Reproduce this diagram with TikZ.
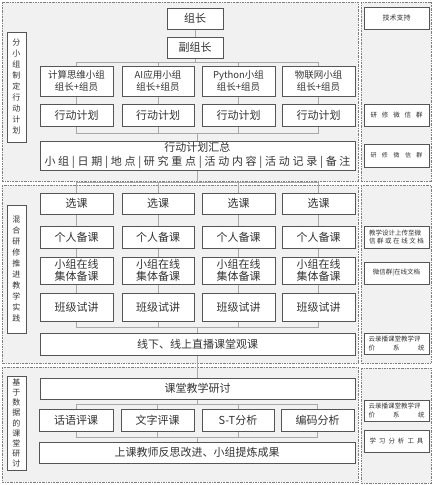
\documentclass[tikz,border=0pt]{standalone}
\usepackage{fontspec}
\setmainfont{Noto Sans CJK SC}
\definecolor{boxline}{HTML}{555555}
\definecolor{txt}{HTML}{333333}
\definecolor{connline}{HTML}{A8A8A8}
\definecolor{panelfill}{HTML}{F1F1F1}
\definecolor{panelline}{HTML}{7F7F7F}
\tikzset{
  panel/.style={draw=panelline, fill=panelfill, line width=0.7pt, dash pattern=on 2pt off 1pt on 0.6pt off 1pt},
  box/.style={draw=boxline, fill=white, line width=1pt, inner sep=0pt, align=center, text=txt},
  big/.style={font=\fontsize{11}{14}\selectfont},
  mid/.style={font=\fontsize{9.5}{12}\selectfont},
  side/.style={box, minimum width=65pt, font=\fontsize{6.5}{8.5}\selectfont},
  vlabel/.style={box, minimum width=19pt, font=\fontsize{8}{11}\selectfont},
  conn/.style={draw=connline, line width=0.8pt}
}
\begin{document}
\begin{tikzpicture}[x=1pt,y=-1pt]
\useasboundingbox (0,0) rectangle (434,485);
% panels
\draw[panel] (2,2) rectangle (358,181);
\draw[panel] (2,185) rectangle (358,363);
\draw[panel] (2,367) rectangle (358,482);
\draw[panel] (361,2) rectangle (431,181);
\draw[panel] (361,185) rectangle (431,363);
\draw[panel] (361,368) rectangle (431,483);
% bus coordinates
\coordinate (busA) at (0,62);
\coordinate (busB) at (0,133);
\coordinate (busC) at (0,182);
\coordinate (busD) at (0,327);
\coordinate (busE) at (0,404);
\coordinate (busF) at (0,437);
% left labels
\node[vlabel, minimum height=110pt] (L1) at (16.5,87) {分\\小\\组\\制\\定\\行\\动\\计\\划};
\node[vlabel, minimum height=128pt] (L2) at (16.5,269) {混\\合\\研\\修\\推\\进\\教\\学\\实\\践};
\node[vlabel, minimum height=94pt, font=\fontsize{8}{10.2}\selectfont] (L3) at (16.5,423) {基\\于\\数\\据\\的\\课\\堂\\研\\讨};
% panel 1
\node[box, big, minimum width=56pt, minimum height=21pt] (zz) at (195,18.5) {组长};
\node[box, big, minimum width=56pt, minimum height=21pt] (fz) at (195,47.5) {副组长};
\node[box, mid, minimum width=73pt, minimum height=30pt] (g1) at (76.5,81) {计算思维小组\\组长+组员};
\node[box, mid, minimum width=72pt, minimum height=30pt] (g2) at (158,81) {AI应用小组\\组长+组员};
\node[box, mid, minimum width=73pt, minimum height=30pt] (g3) at (238.5,81) {Python小组\\组长+组员};
\node[box, mid, minimum width=73pt, minimum height=30pt] (g4) at (318.5,81) {物联网小组\\组长+组员};
\node[box, big, minimum width=73pt, minimum height=22pt] (p1) at (76.5,115) {行动计划};
\node[box, big, minimum width=72pt, minimum height=22pt] (p2) at (158,115) {行动计划};
\node[box, big, minimum width=73pt, minimum height=22pt] (p3) at (238.5,115) {行动计划};
\node[box, big, minimum width=73pt, minimum height=22pt] (p4) at (318.5,115) {行动计划};
\node[box, big, minimum width=315pt, minimum height=29pt] (sum) at (197.5,155.5) {行动计划汇总\\\makebox[306pt][s]{小 组 | 日 期 | 地 点 | 研 究 重 点 | 活 动 内 容 | 活 动 记 录 | 备 注}};
% panel 2
\foreach \i/\x/\w in {1/76.5/73,2/158/72,3/238.5/73,4/318.5/73}{
  \node[box, big, minimum width=\w pt, minimum height=21pt] (x\i) at (\x,203.5) {选课};
  \node[box, big, minimum width=\w pt, minimum height=22pt] (r\i) at (\x,237) {个人备课};
  \node[box, big, minimum width=\w pt, minimum height=27pt, font=\fontsize{11}{12.5}\selectfont] (o\i) at (\x,270.5) {小组在线\\集体备课};
  \node[box, big, minimum width=\w pt, minimum height=28pt] (t\i) at (\x,307) {班级试讲};
}
\node[box, big, minimum width=315pt, minimum height=22pt] (gk) at (197.5,344) {线下、线上直播课堂观课};
% panel 3
\node[box, big, minimum width=315pt, minimum height=21pt] (yt) at (197.5,388.5) {课堂教学研讨};
\node[box, big, minimum width=74pt, minimum height=22pt] (a1) at (76,420) {话语评课};
\node[box, big, minimum width=73pt, minimum height=22pt] (a2) at (157.5,420) {文字评课};
\node[box, big, minimum width=72pt, minimum height=22pt] (a3) at (238,420) {S-T分析};
\node[box, big, minimum width=73pt, minimum height=22pt] (a4) at (317.5,420) {编码分析};
\node[box, big, minimum width=316pt, minimum height=21pt] (fs) at (197,452.5) {上课教师反思改进、小组提炼成果};
% right column
\node[side, minimum height=22pt, font=\fontsize{7}{9}\selectfont] (js) at (396.5,18) {技术支持};
\node[side, minimum height=22pt, font=\fontsize{6.5}{9}\selectfont] (w1) at (396.5,115) {\makebox[52pt][s]{研 修 微 信 群}};
\node[side, minimum height=23pt, font=\fontsize{6}{9}\selectfont] (w2) at (396.5,155.5) {\makebox[52pt][s]{研 修 微 信 群}};
\node[side, minimum height=22pt] (sj) at (396.5,237) {\makebox[55pt][s]{教学设计上传至微}\\\makebox[55pt][s]{信 群 或 在 线 文 档}};
\node[side, minimum height=22pt] (wx) at (396.5,273) {微信群|在线文档};
\node[side, minimum height=21pt] (y1) at (396.5,343.5) {\makebox[56pt][s]{云录播课堂教学评}\\\makebox[56pt][s]{价 系 统}};
\node[side, minimum height=21pt] (y2) at (396.5,410.5) {\makebox[56pt][s]{云录播课堂教学评}\\\makebox[56pt][s]{价 系 统}};
\node[side, minimum height=22pt] (xx) at (396.5,441) {\makebox[54pt][s]{学 习 分 析 工 具}};
% connectors panel 1
\draw[conn] (zz) -- (fz);
\draw[conn] (fz.south) -- (fz.south |- busA);
\draw[conn] (g1.north) -- (g1.north |- busA) -- (g4.north |- busA) -- (g4.north);
\draw[conn] (g2.north) -- (g2.north |- busA);
\draw[conn] (g3.north) -- (g3.north |- busA);
\foreach \i in {1,2,3,4}{ \draw[conn] (g\i) -- (p\i); }
\draw[conn] (p1.south) -- (p1.south |- busB) -- (p4.south |- busB) -- (p4.south);
\draw[conn] (p2.south) -- (p2.south |- busB);
\draw[conn] (p3.south) -- (p3.south |- busB);
\draw[conn] (sum.north |- busB) -- (sum.north);
% panel 2
\draw[conn] (sum.south) -- (sum.south |- busC);
\draw[conn] (x1.north) -- (x1.north |- busC) -- (x4.north |- busC) -- (x4.north);
\draw[conn] (x2.north) -- (x2.north |- busC);
\draw[conn] (x3.north) -- (x3.north |- busC);
\foreach \i in {1,2,3,4}{
  \draw[conn] (x\i) -- (r\i);
  \draw[conn] (r\i) -- (o\i);
  \draw[conn] (o\i) -- (t\i);
}
\draw[conn] (t1.south) -- (t1.south |- busD) -- (t4.south |- busD) -- (t4.south);
\draw[conn] (t2.south) -- (t2.south |- busD);
\draw[conn] (t3.south) -- (t3.south |- busD);
\draw[conn] (gk.north |- busD) -- (gk.north);
% panel 3
\draw[conn] (gk) -- (yt);
\draw[conn] (yt.south) -- (yt.south |- busE);
\draw[conn] (a1.north) -- (a1.north |- busE) -- (a4.north |- busE) -- (a4.north);
\draw[conn] (a2.north) -- (a2.north |- busE);
\draw[conn] (a3.north) -- (a3.north |- busE);
\draw[conn] (a1.south) -- (a1.south |- busF) -- (a4.south |- busF) -- (a4.south);
\draw[conn] (a2.south) -- (a2.south |- busF);
\draw[conn] (a3.south) -- (a3.south |- busF);
\draw[conn] (fs.north |- busF) -- (fs.north);
\end{tikzpicture}
\end{document}
